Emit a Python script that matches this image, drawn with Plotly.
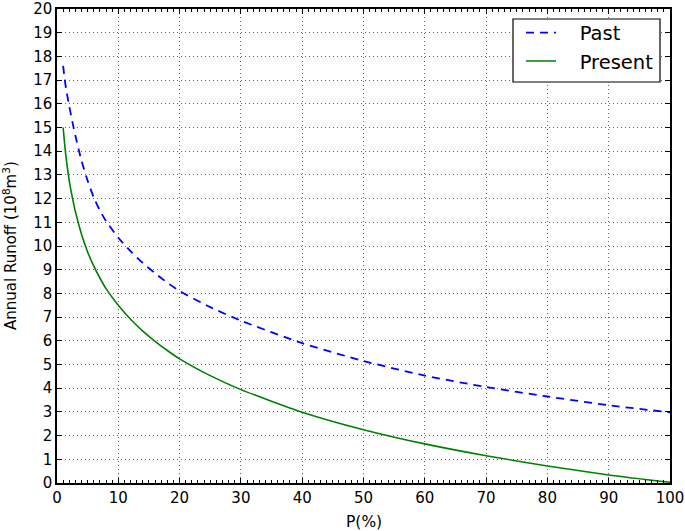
import plotly.graph_objects as go

# Data
p_past = [1, 1.25, 1.5, 2, 2.5, 3, 4, 5, 6, 7, 8, 10, 12, 14, 16, 18, 20, 25, 30, 40, 50, 60, 70, 80, 90, 100]
past = [17.6, 17.05, 16.6, 15.9, 15.25, 14.65, 13.6, 12.75, 12.05, 11.5, 11.05, 10.35, 9.78,
        9.28, 8.85, 8.45, 8.1, 7.42, 6.85, 5.9, 5.15, 4.53, 4.05, 3.65, 3.28, 2.98]

p_present = [1, 1.25, 1.5, 2, 2.5, 3, 4, 5, 6, 7, 8, 10, 12, 14, 16, 18, 20, 25, 30, 40, 50, 60, 70, 80, 90, 100]
present = [15.0, 14.3, 13.7, 12.75, 12.05, 11.45, 10.5, 9.75, 9.15, 8.65, 8.2, 7.5, 6.91,
           6.41, 5.98, 5.59, 5.24, 4.53, 3.94, 2.99, 2.25, 1.65, 1.15, 0.72, 0.34, 0.03]

series_names = ["Past", "Present"]
x_ticks = list(range(0, 101, 10))
y_ticks = list(range(0, 21, 1))

NB = "\u00a0\u00a0\u00a0"

fig = go.Figure()
fig.add_trace(go.Scatter(x=p_past, y=past, mode="lines", name=NB + series_names[0],
                         line=dict(color="#0000ff", width=1.8, dash="8px,6px", shape="spline", smoothing=0.6)))
fig.add_trace(go.Scatter(x=p_present, y=present, mode="lines", name=NB + series_names[1],
                         line=dict(color="#008000", width=1.6, shape="spline", smoothing=0.6)))

font = "DejaVu Sans, sans-serif"
axis_common = dict(
    showline=True, linecolor="black", linewidth=1.5, mirror="ticks",
    ticks="inside", tickcolor="black", ticklen=5, tickwidth=1,
    showgrid=True, gridcolor="#666", gridwidth=1, griddash="1px,3px",
    zeroline=False, automargin=False,
    tickfont=dict(family=font, size=15, color="black"),
)

fig.update_layout(
    width=685, height=531,
    margin=dict(l=57, r=15, t=9, b=48),
    paper_bgcolor="white", plot_bgcolor="white",
    font=dict(family=font, color="black"),
    xaxis=dict(range=[0, 100], tickvals=x_ticks, ticktext=[str(v) for v in x_ticks],
               minor=dict(dtick=1, ticks="inside", ticklen=3, tickcolor="black", showgrid=False),
               **axis_common),
    yaxis=dict(range=[0, 20], tickvals=y_ticks, ticktext=[str(v) for v in y_ticks],
               **axis_common),
    legend=dict(x=0.757, y=0.9905, xanchor="left", yanchor="top",
                borderwidth=0, bgcolor="rgba(0,0,0,0)",
                font=dict(family=font, size=19.5)),
    shapes=[dict(type="rect", xref="paper", yref="paper",
                 x0=0.7439, x1=0.9837, y0=0.846, y1=0.9789,
                 line=dict(color="black", width=1.2), fillcolor="white", layer="above")],
    annotations=[
        dict(text="Annual Runoff (10<sup>8</sup>m<sup>3</sup>)", textangle=-90,
             xref="paper", yref="paper", x=0, y=0.5, xanchor="center", yanchor="middle",
             xshift=-47, showarrow=False, font=dict(family=font, size=15, color="black")),
        dict(text="P(%)", xref="paper", yref="paper", x=0.5, y=0,
             xanchor="center", yanchor="middle", yshift=-38.5, showarrow=False,
             font=dict(family=font, size=15.5, color="black")),
    ],
)

fig.write_html("out.html", config={"displayModeBar": False},
               post_script="document.body.style.margin='0px';")
